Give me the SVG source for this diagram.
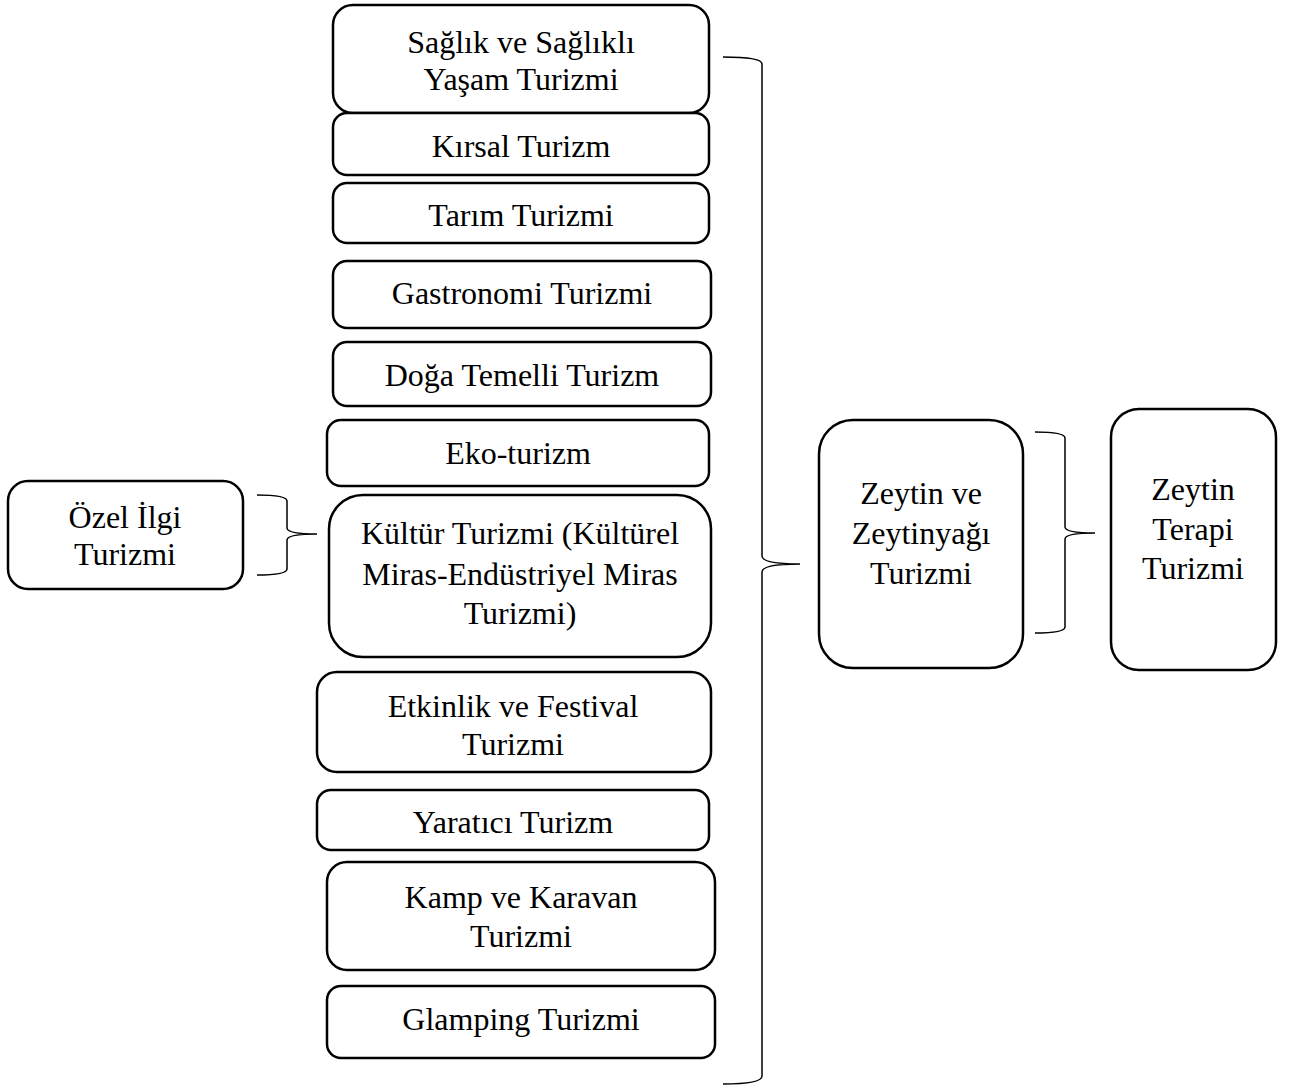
<svg xmlns="http://www.w3.org/2000/svg" width="1290" height="1088" viewBox="0 0 1290 1088">
<style>
.box{fill:#fff;stroke:#000;stroke-width:2.5}
.t{font-family:"Liberation Serif","Times New Roman",serif;font-size:32px;fill:#000;text-anchor:middle}
.br{fill:none;stroke:#000;stroke-width:1.5}
</style>
<rect width="1290" height="1088" fill="#fff"/>
<g id="connectors">
<path class="br" d="M723,57 Q762,57 762,64 L762,556 Q762,564 800,564 Q762,564 762,572 L762,1076 Q762,1084 723,1084"/>
<path class="br" d="M257,495 Q287,495 287,501 L287,528 Q287,534 317,534 Q287,534 287,540 L287,569 Q287,575 257,575"/>
<path class="br" d="M1035,432 Q1065,432 1065,438 L1065,527 Q1065,533 1095,533 Q1065,533 1065,539 L1065,627 Q1065,633 1035,633"/>
</g>
<g id="n-saglik"><rect class="box" x="333" y="5" width="376" height="108" rx="20"/><text class="t" x="521" y="53">Sağlık ve Sağlıklı</text><text class="t" x="521" y="90">Yaşam Turizmi</text></g>
<g id="n-kirsal"><rect class="box" x="333" y="113" width="376" height="62" rx="14"/><text class="t" x="521" y="157">Kırsal Turizm</text></g>
<g id="n-tarim"><rect class="box" x="333" y="183" width="376" height="60" rx="14"/><text class="t" x="521" y="226">Tarım Turizmi</text></g>
<g id="n-gastronomi"><rect class="box" x="333" y="261" width="378" height="67" rx="14"/><text class="t" x="522" y="304">Gastronomi Turizmi</text></g>
<g id="n-doga"><rect class="box" x="333" y="342" width="378" height="64" rx="14"/><text class="t" x="522" y="386">Doğa Temelli Turizm</text></g>
<g id="n-eko"><rect class="box" x="327" y="420" width="382" height="66" rx="14"/><text class="t" x="518" y="464">Eko-turizm</text></g>
<g id="n-kultur"><rect class="box" x="329" y="495" width="382" height="162" rx="34"/><text class="t" x="520" y="544">Kültür Turizmi (Kültürel</text><text class="t" x="520" y="585">Miras-Endüstriyel Miras</text><text class="t" x="520" y="624">Turizmi)</text></g>
<g id="n-etkinlik"><rect class="box" x="317" y="672" width="394" height="100" rx="20"/><text class="t" x="513" y="717">Etkinlik ve Festival</text><text class="t" x="513" y="755">Turizmi</text></g>
<g id="n-yaratici"><rect class="box" x="317" y="790" width="392" height="60" rx="14"/><text class="t" x="513" y="833">Yaratıcı Turizm</text></g>
<g id="n-kamp"><rect class="box" x="327" y="862" width="388" height="108" rx="20"/><text class="t" x="521" y="908">Kamp ve Karavan</text><text class="t" x="521" y="947">Turizmi</text></g>
<g id="n-glamping"><rect class="box" x="327" y="986" width="388" height="72" rx="14"/><text class="t" x="521" y="1030">Glamping Turizmi</text></g>
<g id="n-ozel"><rect class="box" x="8" y="481" width="235" height="108" rx="20"/><text class="t" x="125" y="528">Özel İlgi</text><text class="t" x="125" y="565">Turizmi</text></g>
<g id="n-zeytin"><rect class="box" x="819" y="420" width="204" height="248" rx="34"/><text class="t" x="921" y="504">Zeytin ve</text><text class="t" x="921" y="544">Zeytinyağı</text><text class="t" x="921" y="584">Turizmi</text></g>
<g id="n-terapi"><rect class="box" x="1111" y="409" width="165" height="261" rx="28"/><text class="t" x="1193" y="500">Zeytin</text><text class="t" x="1193" y="540">Terapi</text><text class="t" x="1193" y="579">Turizmi</text></g>
</svg>
